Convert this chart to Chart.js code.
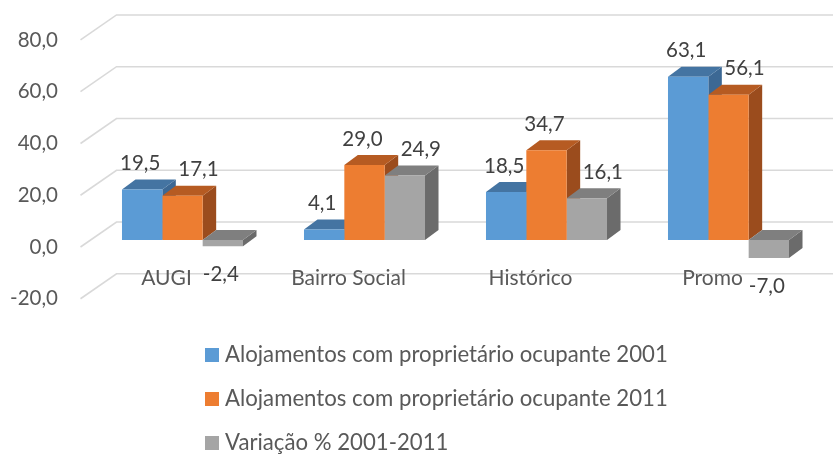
<!DOCTYPE html>
<html><head><meta charset="utf-8">
<script src="https://cdn.jsdelivr.net/npm/chart.js@4.4.0/dist/chart.umd.min.js"></script>
<style>html,body{margin:0;padding:0;background:#fff;overflow:hidden}#wrap{width:833px;height:455px;position:relative}</style>
</head><body><div id="wrap"><canvas id="c"></canvas></div>
<script>
// ---- data ----
const categories = ['AUGI', 'Bairro Social', 'Histórico', 'Promo'];
const seriesNames = ['Alojamentos com proprietário ocupante 2001', 'Alojamentos com proprietário ocupante 2011', 'Variação % 2001-2011'];
const owner2001 = [19.5, 4.1, 18.5, 63.1];
const owner2011 = [17.1, 29.0, 34.7, 56.1];
const variation = [-2.4, 24.9, 16.1, -7.0];
const yTicks = [-20, 0, 20, 40, 60, 80];

// ---- styles ----
const FONT = 'Lato';
const frontColors = ['#5B9BD5', '#ED7D31', '#A5A5A5'];
const topColors = ['#4474A2', '#B65B22', '#7F7F7F'];
const sideColors = ['#3C6894', '#9B4C1D', '#6B6B6B'];
const DX = 13.5, DY = -10;      // bar depth
const BACK = -18;                // back wall offset
const fmt = v => v.toFixed(1).replace('.', ',');

const fake3d = {
  id: 'fake3d',
  beforeDraw(chart) {
    const ctx = chart.ctx, ys = chart.scales.y, yl = chart.scales.yLab, a = chart.chartArea;
    ctx.save();
    ctx.fillStyle = '#fff';
    ctx.fillRect(0, 0, chart.width, chart.height);
    ctx.strokeStyle = '#D9D9D9';
    ctx.lineWidth = 1.6;
    yTicks.forEach(v => {
      const yf = yl.getPixelForValue(v);
      const yb = ys.getPixelForValue(v) + BACK;
      ctx.beginPath();
      ctx.moveTo(a.left - 11, yf);
      ctx.lineTo(a.left + 25, yb);
      ctx.lineTo(chart.width, yb);
      ctx.stroke();
    });
    ctx.restore();
  },
  beforeDatasetsDraw(chart) {
    const ctx = chart.ctx;
    ctx.save();
    categories.forEach((c, j) => {
      chart.data.datasets.forEach((ds, i) => {
        const el = chart.getDatasetMeta(i).data[j];
        const p = el.getProps(['x', 'y', 'base', 'width'], true);
        const l = p.x - p.width / 2, r = p.x + p.width / 2;
        const t = Math.min(p.y, p.base), b = Math.max(p.y, p.base);
        ctx.fillStyle = sideColors[i];
        ctx.beginPath();
        ctx.moveTo(r, t); ctx.lineTo(r, b); ctx.lineTo(r + DX, b + DY); ctx.lineTo(r + DX, t + DY);
        ctx.closePath(); ctx.fill();
        ctx.fillStyle = topColors[i];
        ctx.beginPath();
        ctx.moveTo(l, t); ctx.lineTo(r, t); ctx.lineTo(r + DX, t + DY); ctx.lineTo(l + DX, t + DY);
        ctx.closePath(); ctx.fill();
      });
    });
    ctx.restore();
  },
  afterDatasetsDraw(chart) {
    const ctx = chart.ctx;
    ctx.save();
    ctx.font = '20.5px ' + FONT;
    ctx.fillStyle = '#404040';
    ctx.textAlign = 'center';
    ctx.textBaseline = 'middle';
    chart.data.datasets.forEach((ds, i) => {
      ds.data.forEach((v, j) => {
        const p = chart.getDatasetMeta(i).data[j].getProps(['x', 'y', 'base'], true);
        const prev = i > 0 ? chart.data.datasets[i - 1].data[j] : -Infinity;
        const shift = (v >= 0 && prev > v) ? 16 : -2;
        const ty = v >= 0 ? Math.min(p.y, p.base) - 26 : Math.max(p.y, p.base) + 28;
        ctx.fillText(fmt(v), p.x + shift, ty);
      });
    });
    ctx.restore();
  },
  afterDraw(chart) {
    const ctx = chart.ctx;
    ctx.save();
    ctx.font = '22.2px ' + FONT;
    ctx.textBaseline = 'middle';
    ctx.textAlign = 'left';
    chart.data.datasets.forEach((ds, i) => {
      const cy = 355 + i * 44;
      ctx.fillStyle = frontColors[i];
      ctx.fillRect(205, cy - 7, 14, 14);
      ctx.fillStyle = '#595959';
      ctx.fillText(ds.label, 225, cy);
    });
    ctx.restore();
  }
};

const Y_MIN = -10, Y_MAX = 85, LAB_SHIFT = 2.705;

new Chart(document.getElementById('c'), {
  type: 'bar',
  data: {
    labels: categories,
    datasets: [
      { label: seriesNames[0], data: owner2001, backgroundColor: frontColors[0] },
      { label: seriesNames[1], data: owner2011, backgroundColor: frontColors[1] },
      { label: seriesNames[2], data: variation, backgroundColor: frontColors[2] }
    ]
  },
  options: {
    responsive: true,
    maintainAspectRatio: false,
    animation: false,
    devicePixelRatio: 1,
    layout: { padding: { left: 9.5, right: 13.5, top: 20, bottom: 159.12 } },
    datasets: { bar: { categoryPercentage: 0.665, barPercentage: 1, borderWidth: 0, yAxisID: 'y' } },
    plugins: { legend: { display: false }, tooltip: { enabled: false } },
    scales: {
      x: {
        grid: { display: false, drawTicks: false },
        border: { display: false },
        ticks: { font: { family: FONT, size: 21 }, color: '#595959', labelOffset: -16, padding: 0 },
        afterFit: s => { s.height = 30; s.paddingLeft = 0; s.paddingRight = 0; }
      },
      y: { display: false, min: Y_MIN, max: Y_MAX },
      yLab: {
        axis: 'y', position: 'left', type: 'linear',
        min: Y_MIN + LAB_SHIFT, max: Y_MAX + LAB_SHIFT,
        grid: { display: false, drawTicks: false },
        border: { display: false },
        afterBuildTicks: s => { s.ticks = yTicks.map(v => ({ value: v })); },
        afterFit: s => { s.width = 82; s.paddingTop = 0; s.paddingBottom = 0; },
        ticks: { font: { family: FONT, size: 20.5 }, color: '#595959', padding: 33.5, autoSkip: false, callback: v => fmt(v) }
      }
    }
  },
  plugins: [fake3d]
});
</script></body></html>
